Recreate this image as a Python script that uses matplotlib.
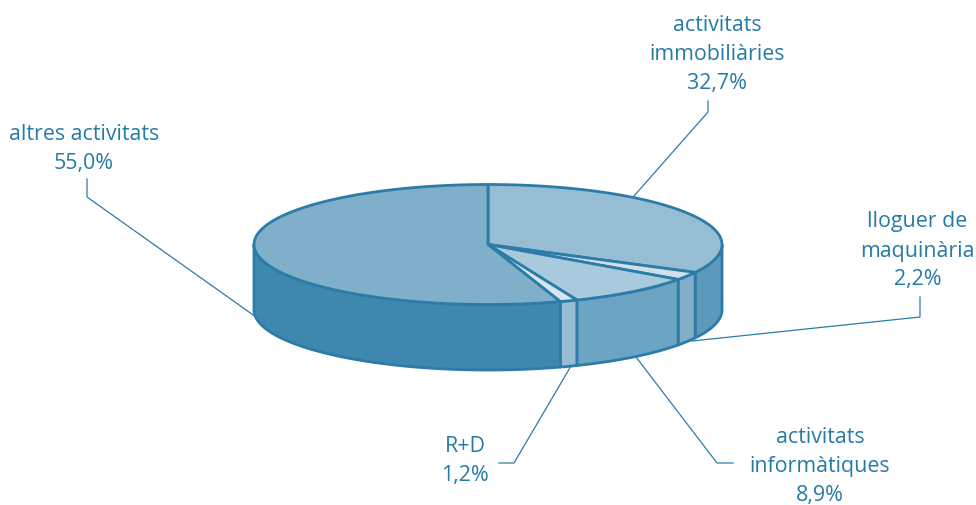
import matplotlib
matplotlib.use('Agg')
import matplotlib.pyplot as plt
import numpy as np
from matplotlib.patches import Polygon

plt.rcParams['font.family'] = ['Open Sans', 'DejaVu Sans']

# shares in %, clockwise from 12 o'clock
names = ["activitats\nimmobiliàries", "lloguer de\nmaquinària", "activitats\ninformàtiques", "R+D", "altres activitats"]
values = [32.7, 2.2, 8.9, 1.2, 55.0]
value_labels = ["32,7%", "2,2%", "8,9%", "1,2%", "55,0%"]

top_colors = ['#96bdd3', '#cfe0ea', '#a9cadd', '#d6e6ef', '#7fafc9']
side_colors = ['#5b9abb', '#82aec8', '#6ca5c4', '#97bdd3', '#3e88b0']
line_color = '#2b7ca8'
text_color = '#267ba6'

cx, cy = 488, 245.5
rx, ry = 234, 60
depth = 65.5

# text centre, and leader line in pixels
label_pos = [(717.5, 54), (917.5, 251), (820, 466.5), (465, 461), (84, 149)]
leaders = [
    [(634, 197), (708, 113), (708, 102)],
    [(692, 342), (920, 318), (920, 298)],
    [(636, 358), (717, 464), (733, 464)],
    [(571, 367), (514, 464), (499, 464)],
    [(256, 318), (87, 198), (87, 180)],
]


def rim(a0, a1, n=120):
    t = np.linspace(a0, a1, n)
    return cx + rx * np.cos(t), cy - ry * np.sin(t)


fig, ax = plt.subplots(figsize=(9.76, 5.06), dpi=100)
fig.subplots_adjust(0, 0, 1, 1)
ax.set_xlim(0, 976)
ax.set_ylim(506, 0)
ax.axis('off')

for pts in leaders:
    xs, ys = zip(*pts)
    ax.plot(xs, ys, color=line_color, lw=0.9, zorder=1)

# start at the top, go clockwise
edges = np.pi / 2 - 2 * np.pi * np.cumsum([0] + values) / sum(values)

# side walls, only the front half of the pie shows
for i in range(len(values)):
    a0 = min(edges[i], 0)
    a1 = max(edges[i + 1], -np.pi)
    if a0 <= a1:
        continue
    x, y = rim(a0, a1)
    pts = np.r_[np.c_[x, y], np.c_[x[::-1], y[::-1] + depth]]
    ax.add_patch(Polygon(pts, closed=True, fc=side_colors[i], ec=line_color, lw=2.0,
                         joinstyle='round', zorder=2))

# top slices
for i in range(len(values)):
    x, y = rim(edges[i], edges[i + 1], 300)
    pts = np.r_[[[cx, cy]], np.c_[x, y]]
    ax.add_patch(Polygon(pts, closed=True, fc=top_colors[i], ec=line_color, lw=2.0,
                         joinstyle='round', zorder=3))

for i in range(len(values)):
    ax.text(label_pos[i][0], label_pos[i][1], names[i] + "\n" + value_labels[i],
            color=text_color, fontsize=15.4, ha='center', va='center', linespacing=1.5)

fig.savefig('out.png', dpi=100)
